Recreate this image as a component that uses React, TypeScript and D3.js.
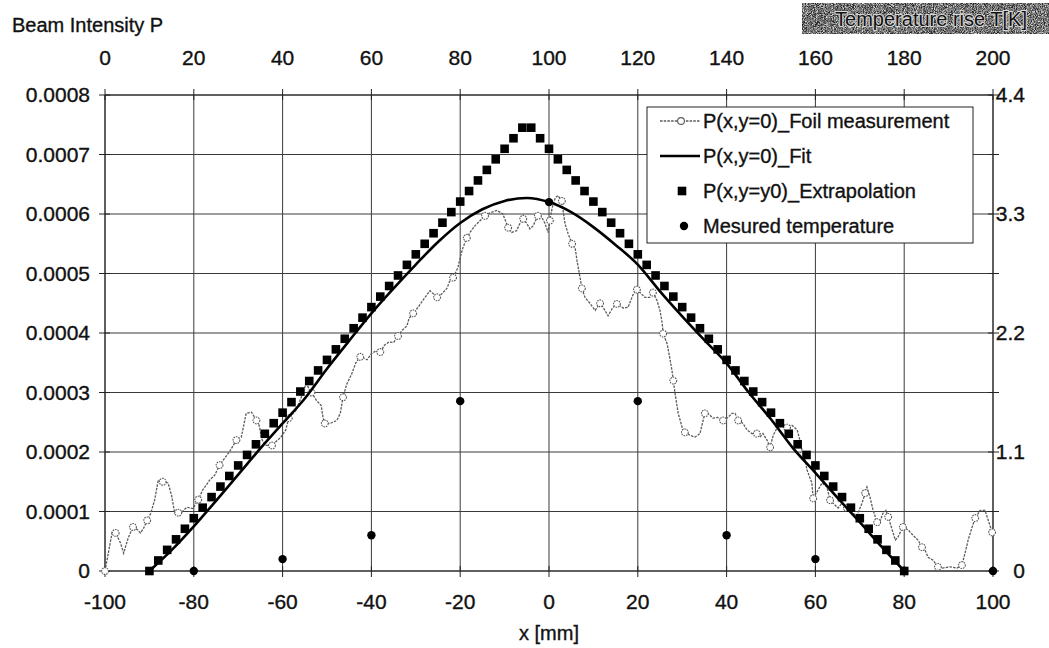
import React from "react";
import * as d3 from "d3";

// ---------- axes ----------
const xTicksBottom = [-100, -80, -60, -40, -20, 0, 20, 40, 60, 80, 100];
const xTicksTop = [0, 20, 40, 60, 80, 100, 120, 140, 160, 180, 200];
const yTicksLeft = [0, 0.0001, 0.0002, 0.0003, 0.0004, 0.0005, 0.0006, 0.0007, 0.0008];
const yTickLabelsLeft = ["0", "0.0001", "0.0002", "0.0003", "0.0004", "0.0005", "0.0006", "0.0007", "0.0008"];
const yTicksRight = [0, 1.1, 2.2, 3.3, 4.4];
const yTickLabelsRight = ["0", "1.1", "2.2", "3.3", "4.4"];

// ---------- series: P(x,y=0)_Foil measurement ----------
const foilX = [
  -100, -99.5, -99, -98.4, -97.6, -96.5, -95.8, -94.8, -93.7, -92.8, -92, -91.3, -90.5, -89.7, -88.8, -88, -87, -85.8, -85,
  -84.3, -83.5, -82.7, -81.6, -80.2, -79, -78, -76.4, -75.3, -74.2, -73, -72, -71.2, -70.4, -69.3, -68.2, -67, -65.9, -65.3,
  -64.6, -63.7, -62.4, -61.4, -60.4, -59.3, -58.6, -57, -55.9, -54.7, -53.5, -52.4, -51.3, -50.9, -50.5, -49.3, -47.8, -47,
  -46.4, -45.5, -44.5, -43.5, -42.5, -41, -40, -39, -38, -37, -36, -35, -34, -33, -32, -31.5, -30.6, -29.5, -28.4, -26.8,
  -25.2, -24.1, -23, -22.3, -21.6, -20.5, -20, -19.4, -18.5, -17.8, -16.7, -15.5, -14.4, -13.3, -11.7, -10.4, -9.2, -8.4,
  -7.3, -6.5, -5.8, -5, -4.3, -3.6, -2.5, -1.6, -0.9, -0.2, 0.2, 0.7, 1.4, 2, 2.9, 3.2, 3.6, 4.3, 5.2, 5.9, 6.3, 7, 7.4, 8.1,
  9.2, 10.4, 11.5, 12.2, 13.3, 14.4, 15.3, 16.7, 17.8, 18.9, 19.8, 20.5, 21.6, 22.7, 23.4, 24.3, 25, 25.5, 25.7, 26.6, 27.3,
  27.7, 28, 28.4, 29.1, 30, 30.6, 31.8, 32.9, 34, 35.1, 35.8, 36.9, 38, 39.2, 40.3, 41.2, 41.9, 42.6, 43.7, 44.6, 45.7, 46.8,
  47.5, 48.2, 49.1, 49.8, 50.5, 51.4, 52.5, 53.6, 54.7, 55.9, 56.5, 57.2, 57.7, 58.1, 59.2, 59.5, 60.6, 61.5, 62.6, 63.3,
  64.4, 65.1, 66, 67.1, 68.2, 69.4, 70.5, 71.2, 71.6, 72.3, 73, 73.9, 74.5, 75.2, 75.9, 76.4, 77.3, 78, 78.6, 79.7, 80.9, 82,
  83.1, 84, 84.7, 85.4, 86.5, 87.6, 88.7, 90.3, 91.9, 93, 93.7, 94.4, 95.3, 96, 97.1, 98.2, 98.9, 99.8,
];
const foilP = [
  0, 0.2e-4, 0.4e-4, 0.65e-4, 0.64e-4, 0.47e-4, 0.3e-4, 0.55e-4, 0.74e-4, 0.7e-4, 0.64e-4, 0.72e-4, 0.85e-4, 0.97e-4, 1.2e-4,
  1.53e-4, 1.5e-4, 1.48e-4, 1.27e-4, 0.97e-4, 0.98e-4, 0.99e-4, 1.07e-4, 1.05e-4, 1.2e-4, 1.36e-4, 1.53e-4, 1.61e-4, 1.78e-4,
  1.9e-4, 2.0e-4, 2.1e-4, 2.2e-4, 2.25e-4, 2.65e-4, 2.67e-4, 2.53e-4, 2.45e-4, 2.2e-4, 2.11e-4, 2.11e-4, 2.18e-4, 2.25e-4,
  2.37e-4, 2.57e-4, 2.7e-4, 2.9e-4, 3.15e-4, 3.0e-4, 2.87e-4, 2.78e-4, 2.58e-4, 2.48e-4, 2.48e-4, 2.53e-4, 2.65e-4, 2.92e-4,
  3.15e-4, 3.3e-4, 3.5e-4, 3.6e-4, 3.55e-4, 3.65e-4, 3.7e-4, 3.68e-4, 3.8e-4, 3.85e-4, 3.84e-4, 3.95e-4, 4.05e-4, 4.12e-4,
  4.25e-4, 4.33e-4, 4.43e-4, 4.55e-4, 4.71e-4, 4.6e-4, 4.66e-4, 4.75e-4, 4.88e-4, 4.93e-4, 5.1e-4, 5.27e-4, 5.43e-4, 5.6e-4,
  5.69e-4, 5.8e-4, 5.89e-4, 5.97e-4, 6.02e-4, 6.06e-4, 6.0e-4, 5.77e-4, 5.69e-4, 5.72e-4, 5.85e-4, 5.92e-4, 5.84e-4, 5.75e-4,
  5.8e-4, 5.97e-4, 5.94e-4, 5.84e-4, 5.69e-4, 5.89e-4, 6.1e-4, 6.27e-4, 6.31e-4, 6.22e-4, 6.05e-4, 5.84e-4, 5.67e-4, 5.5e-4,
  5.43e-4, 5.22e-4, 4.93e-4, 4.75e-4, 4.6e-4, 4.5e-4, 4.38e-4, 4.5e-4, 4.43e-4, 4.29e-4, 4.43e-4, 4.49e-4, 4.42e-4, 4.43e-4,
  4.64e-4, 4.73e-4, 4.68e-4, 4.6e-4, 4.6e-4, 4.68e-4, 4.55e-4, 4.38e-4, 4.16e-4, 3.99e-4, 3.82e-4, 3.54e-4, 3.37e-4, 3.2e-4,
  2.98e-4, 2.65e-4, 2.41e-4, 2.33e-4, 2.28e-4, 2.25e-4, 2.31e-4, 2.65e-4, 2.65e-4, 2.57e-4, 2.58e-4, 2.53e-4, 2.58e-4,
  2.65e-4, 2.65e-4, 2.53e-4, 2.48e-4, 2.37e-4, 2.31e-4, 2.31e-4, 2.25e-4, 2.31e-4, 2.2e-4, 2.08e-4, 2.28e-4, 2.41e-4,
  2.48e-4, 2.41e-4, 2.45e-4, 2.37e-4, 2.2e-4, 1.95e-4, 1.86e-4, 1.7e-4, 1.48e-4, 1.22e-4, 1.36e-4, 1.48e-4, 1.41e-4, 1.19e-4,
  1.11e-4, 1.06e-4, 1.14e-4, 1.06e-4, 0.97e-4, 0.94e-4, 1.14e-4, 1.31e-4, 1.41e-4, 1.24e-4, 1.02e-4, 0.82e-4, 0.82e-4,
  0.97e-4, 1.02e-4, 0.91e-4, 0.69e-4, 0.52e-4, 0.57e-4, 0.74e-4, 0.69e-4, 0.6e-4, 0.52e-4, 0.4e-4, 0.35e-4, 0.23e-4,
  0.18e-4, 0.07e-4, 0.05e-4, 0.07e-4, 0.05e-4, 0.1e-4, 0.3e-4, 0.52e-4, 0.74e-4, 0.89e-4, 1.02e-4, 1.02e-4, 0.86e-4, 0.65e-4,
];

// ---------- series: P(x,y=0)_Fit ----------
const fitX = [-90, -85, -80, -75, -70, -65, -60, -55, -50, -45, -40, -35, -30, -25, -20, -15, -10, -5, 0, 5, 10, 15, 20, 25, 30, 35, 40, 45, 50, 55, 60, 65, 70, 75, 80];
const fitP = [
  0, 0.35e-4, 0.75e-4, 1.18e-4, 1.62e-4, 2.06e-4, 2.48e-4, 2.9e-4, 3.4e-4, 3.87e-4, 4.33e-4, 4.75e-4, 5.15e-4, 5.53e-4,
  5.85e-4, 6.08e-4, 6.22e-4, 6.27e-4, 6.2e-4, 6.03e-4, 5.78e-4, 5.48e-4, 5.15e-4, 4.7e-4, 4.28e-4, 3.88e-4, 3.49e-4, 3.0e-4,
  2.55e-4, 2.06e-4, 1.65e-4, 1.23e-4, 0.82e-4, 0.4e-4, 0,
];

// ---------- series: P(x,y=y0)_Extrapolation ----------
const extrapX = [
  -90, -88, -86, -84, -82, -80, -78, -76, -74, -72, -70, -68, -66, -64, -62, -60, -58, -56, -54, -52, -50, -48, -46, -44, -42,
  -40, -38, -36, -34, -32, -30, -28, -26, -24, -22, -20, -18, -16, -14, -12, -10, -8, -6, -4, -2, 0, 2, 4, 6, 8, 10, 12, 14,
  16, 18, 20, 22, 24, 26, 28, 30, 32, 34, 36, 38, 40, 42, 44, 46, 48, 50, 52, 54, 56, 58, 60, 62, 64, 66, 68, 70, 72, 74, 76,
  78, 80,
];
const extrapP = [
  0, 0.177e-4, 0.355e-4, 0.532e-4, 0.71e-4, 0.887e-4, 1.064e-4, 1.242e-4, 1.419e-4, 1.597e-4, 1.774e-4, 1.951e-4, 2.129e-4,
  2.306e-4, 2.484e-4, 2.661e-4, 2.838e-4, 3.016e-4, 3.193e-4, 3.371e-4, 3.548e-4, 3.725e-4, 3.903e-4, 4.08e-4, 4.258e-4,
  4.435e-4, 4.612e-4, 4.79e-4, 4.967e-4, 5.145e-4, 5.322e-4, 5.499e-4, 5.677e-4, 5.854e-4, 6.032e-4, 6.209e-4, 6.386e-4,
  6.564e-4, 6.741e-4, 6.919e-4, 7.096e-4, 7.273e-4, 7.451e-4,
  7.451e-4, 7.273e-4, 7.096e-4, 6.919e-4, 6.741e-4, 6.564e-4, 6.386e-4, 6.209e-4, 6.032e-4, 5.854e-4, 5.677e-4, 5.499e-4,
  5.322e-4, 5.145e-4, 4.967e-4, 4.79e-4, 4.612e-4, 4.435e-4, 4.258e-4, 4.08e-4, 3.903e-4, 3.725e-4, 3.548e-4, 3.371e-4,
  3.193e-4, 3.016e-4, 2.838e-4, 2.661e-4, 2.484e-4, 2.306e-4, 2.129e-4, 1.951e-4, 1.774e-4, 1.597e-4, 1.419e-4, 1.242e-4,
  1.064e-4, 0.887e-4, 0.71e-4, 0.532e-4, 0.355e-4, 0.177e-4, 0,
];

// ---------- series: Mesured temperature (secondary axes) ----------
const tempX = [20, 40, 60, 80, 100, 120, 140, 160, 180, 200];
const tempT = [0, 0.11, 0.33, 1.57, 3.41, 1.57, 0.33, 0.11, 0, 0];

const legendLabels = [
  "P(x,y=0)_Foil measurement",
  "P(x,y=0)_Fit",
  "P(x,y=y0)_Extrapolation",
  "Mesured temperature",
];

const W = 1049;
const H = 648;
const PL = 105, PR = 993, PT = 95, PB = 571;
const FONT = "'Liberation Sans', Arial, Helvetica, sans-serif";

export default function App() {
  const x = d3.scaleLinear().domain([xTicksBottom[0], xTicksBottom[xTicksBottom.length - 1]]).range([PL, PR]);
  const x2 = d3.scaleLinear().domain([xTicksTop[0], xTicksTop[xTicksTop.length - 1]]).range([PL, PR]);
  const y = d3.scaleLinear().domain([0, yTicksLeft[yTicksLeft.length - 1]]).range([PB, PT]);
  const y2 = d3.scaleLinear().domain([0, yTicksRight[yTicksRight.length - 1]]).range([PB, PT]);

  const foilPts = foilX.map((v, i) => [x(v), y(foilP[i])] as [number, number]);
  const fitPts = fitX.map((v, i) => [x(v), y(fitP[i])] as [number, number]);
  const foilPath = d3.line()(foilPts) || "";
  const fitPath = d3.line().curve(d3.curveMonotoneX)(fitPts) || "";

  const txt = { fontFamily: FONT, fill: "#111", stroke: "#111", strokeWidth: 0.35 } as const;
  const legendRowY = [121, 156, 191, 226];

  return (
    <svg width={W} height={H} style={{ position: "absolute", left: 0, top: 0, background: "#fff" }}>
      <defs>
        <filter id="noise" x="0" y="0" width="100%" height="100%" colorInterpolationFilters="sRGB">
          <feTurbulence type="fractalNoise" baseFrequency="1.1" numOctaves="2" seed="3" />
          <feColorMatrix type="matrix" values="1.3 1.3 1.3 0 -1.5  1.3 1.3 1.3 0 -1.5  1.3 1.3 1.3 0 -1.5  0 0 0 0 1" />
        </filter>
      </defs>
      <rect x={0} y={0} width={W} height={H} fill="#fff" />

      {/* gridlines */}
      {xTicksBottom.map((t) => (
        <line key={"gx" + t} x1={x(t)} x2={x(t)} y1={PT} y2={PB} stroke="#3a3a3a" strokeWidth={1} />
      ))}
      {yTicksLeft.map((t) => (
        <line key={"gy" + t} x1={PL} x2={PR} y1={y(t)} y2={y(t)} stroke="#3a3a3a" strokeWidth={1} />
      ))}
      {/* cross tick marks */}
      {yTicksLeft.map((t) => (
        <line key={"tl" + t} x1={PL - 6} x2={PL + 5} y1={y(t)} y2={y(t)} stroke="#222" />
      ))}
      {yTicksLeft.map((t) => (
        <line key={"tr" + t} x1={PR - 5} x2={PR + 6} y1={y(t)} y2={y(t)} stroke="#222" />
      ))}
      {xTicksBottom.map((t) => (
        <line key={"tb" + t} x1={x(t)} x2={x(t)} y1={PB - 5} y2={PB + 6} stroke="#222" />
      ))}
      {xTicksTop.map((t) => (
        <line key={"tt" + t} x1={x2(t)} x2={x2(t)} y1={PT - 6} y2={PT + 5} stroke="#222" />
      ))}
      <line x1={PL} x2={PL} y1={PT} y2={PB} stroke="#222" />
      <line x1={PR} x2={PR} y1={PT} y2={PB} stroke="#222" />
      <line x1={PL} x2={PR} y1={PB} y2={PB} stroke="#222" />
      <line x1={PL} x2={PR} y1={PT} y2={PT} stroke="#222" />

      {/* foil measurement */}
      <path d={foilPath} fill="none" stroke="#5a5a5a" strokeWidth={1.3} strokeDasharray="2.5,1.2" />
      {foilPts.map((p, i) =>
        i % 4 === 0 ? (
          <circle key={"fm" + i} cx={p[0]} cy={p[1]} r={3.4} fill="#fff" stroke="#5a5a5a" strokeWidth={1.1} strokeDasharray="1.6,0.9" />
        ) : null
      )}

      {/* fit */}
      <path d={fitPath} fill="none" stroke="#000" strokeWidth={2.6} />

      {/* extrapolation */}
      {extrapX.map((v, i) => (
        <rect key={"ex" + i} x={x(v) - 4.3} y={y(extrapP[i]) - 4.3} width={8.6} height={8.6} fill="#000" />
      ))}

      {/* measured temperature on secondary axes */}
      {tempX.map((v, i) => (
        <circle key={"tp" + i} cx={x2(v)} cy={y2(tempT[i])} r={4.2} fill="#000" />
      ))}

      {/* left axis labels */}
      {yTicksLeft.map((t, i) => (
        <text key={"ll" + t} x={90} y={y(t)} dy="0.35em" textAnchor="end" fontSize={21} style={txt}>
          {yTickLabelsLeft[i]}
        </text>
      ))}
      {/* right axis labels */}
      {yTicksRight.map((t, i) => (
        <text key={"rl" + t} x={1025} y={y2(t)} dy="0.35em" textAnchor="end" fontSize={21} style={txt}>
          {yTickLabelsRight[i]}
        </text>
      ))}
      {/* bottom axis labels */}
      {xTicksBottom.map((t) => (
        <text key={"bl" + t} x={x(t)} y={609} textAnchor="middle" fontSize={21} style={txt}>
          {String(t)}
        </text>
      ))}
      {/* top axis labels */}
      {xTicksTop.map((t) => (
        <text key={"tlb" + t} x={x2(t)} y={65} textAnchor="middle" fontSize={21} style={txt}>
          {String(t)}
        </text>
      ))}

      <text x={x(0)} y={640} textAnchor="middle" fontSize={20} style={txt}>x [mm]</text>
      <text x={12} y={32} fontSize={20} style={txt}>Beam Intensity P</text>

      {/* secondary title with halftone background */}
      <rect x={802} y={3} width={247} height={31} fill="#7a7a7a" />
      <rect x={802} y={3} width={247} height={31} filter="url(#noise)" opacity={0.7} />
      <text
        x={1027}
        y={26}
        textAnchor="end"
        fontSize={20}
        style={{ fontFamily: FONT, fill: "#111", stroke: "#d8d8d8", strokeWidth: 2, paintOrder: "stroke" }}
      >
        Temperature rise T[K]
      </text>

      {/* legend */}
      <rect x={647} y={107} width={326} height={136} fill="#fff" stroke="#222" strokeWidth={1} />
      <line x1={660} x2={700} y1={legendRowY[0]} y2={legendRowY[0]} stroke="#5a5a5a" strokeWidth={1.3} strokeDasharray="2.5,1.2" />
      <circle cx={681} cy={legendRowY[0]} r={3.4} fill="#fff" stroke="#5a5a5a" strokeWidth={1.1} />
      <line x1={660} x2={700} y1={legendRowY[1]} y2={legendRowY[1]} stroke="#000" strokeWidth={2.4} />
      <rect x={682 - 4.3} y={legendRowY[2] - 4.3} width={8.6} height={8.6} fill="#000" />
      <circle cx={684} cy={legendRowY[3]} r={4.2} fill="#000" />
      {legendLabels.map((l, i) => (
        <text key={"lg" + i} x={703} y={legendRowY[i]} dy="0.35em" fontSize={20} style={txt}>
          {l}
        </text>
      ))}
    </svg>
  );
}
